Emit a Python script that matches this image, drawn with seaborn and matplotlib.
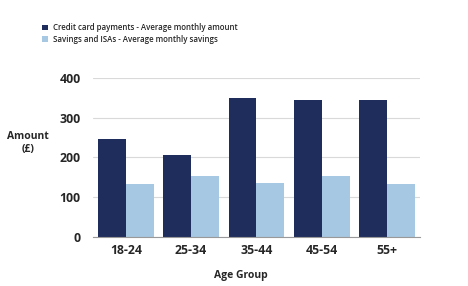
import matplotlib
matplotlib.use("Agg")
import matplotlib.pyplot as plt
import seaborn as sns
import pandas as pd

# --- Data ---
age_groups = ["18-24", "25-34", "35-44", "45-54", "55+"]
credit_card = [245, 206, 348, 345, 345]
savings = [133, 153, 136, 154, 133]
series_names = ["Credit card payments - Average monthly amount",
                "Savings and ISAs - Average monthly savings"]

df = pd.DataFrame({
    "Age Group": age_groups * 2,
    "Amount": credit_card + savings,
    "Series": [series_names[0]] * len(age_groups) + [series_names[1]] * len(age_groups),
})

# --- Style ---
sns.set_style("white")
plt.rcParams["font.family"] = ["Open Sans", "DejaVu Sans"]

fig = plt.figure(figsize=(4.68, 2.86), dpi=100)
ax = fig.add_axes([0.199, 0.172, 0.698, 0.556])

sns.barplot(
    data=df, x="Age Group", y="Amount", hue="Series",
    palette=["#1f2d5c", "#a7c8e2"], width=0.85, gap=0,
    saturation=1, linewidth=0, ax=ax, legend=True,
)

ax.set_ylim(0, 400)
ax.set_xlim(-0.5, 4.5)
ax.set_yticks([0, 100, 200, 300, 400])
ax.yaxis.grid(True, color="#d9d9d9", linewidth=0.8)
ax.set_axisbelow(True)
for s in ["top", "right", "left"]:
    ax.spines[s].set_visible(False)
ax.spines["bottom"].set_color("#999999")
ax.spines["bottom"].set_linewidth(0.8)
ax.tick_params(axis="both", length=0, labelsize=8.8)
ax.tick_params(axis="y", pad=9)
ax.tick_params(axis="x", pad=5)
for lab in ax.get_xticklabels() + ax.get_yticklabels():
    lab.set_fontweight("bold")

ax.set_xlabel("")
ax.set_ylabel("")
fig.text(0.06, 0.50, "Amount\n(£)", ha="center", va="center",
         fontsize=7.5, fontweight="bold", linespacing=1.3)
fig.text(0.514, 0.038, "Age Group", ha="center", va="center",
         fontsize=7.5, fontweight="bold")

# --- Legend ---
handles, labels = ax.get_legend_handles_labels()
ax.legend_.remove()
fig.legend(handles, labels, loc="upper left", bbox_to_anchor=(0.083, 0.93),
           frameon=False, handlelength=0.75, handleheight=0.75,
           handletextpad=0.7, labelspacing=0.35, borderaxespad=0,
           prop={"weight": "semibold", "size": 5.7})

fig.savefig("out.png", dpi=100)
